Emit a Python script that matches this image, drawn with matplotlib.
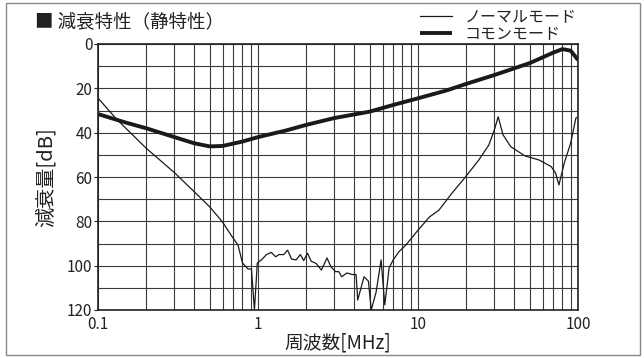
import matplotlib
matplotlib.use('Agg')
import matplotlib.pyplot as plt
from matplotlib.patches import Rectangle
from matplotlib.ticker import FixedLocator, NullFormatter

plt.rcParams['font.family'] = ['Noto Sans CJK JP', 'DejaVu Sans']

# common mode (thick)
common_f = [0.1, 0.15, 0.2, 0.3, 0.4, 0.5, 0.6, 0.8, 1, 1.5, 2, 3, 5, 7, 10,
            15, 20, 30, 50, 70, 80, 90, 100]
common_db = [31.6, 35.5, 38, 42, 44.8, 46.2, 46, 44, 42, 39, 36.5, 33.4, 30.5,
             27.5, 24.5, 21, 18, 14, 8.6, 3.9, 2.3, 3, 7.2]

# normal mode (thin)
normal_f = [0.1, 0.131, 0.2, 0.3, 0.4, 0.5, 0.6, 0.69, 0.75, 0.8, 0.866, 0.91,
            0.95, 0.99, 1.05, 1.13, 1.21, 1.29, 1.35, 1.45, 1.53, 1.62, 1.73,
            1.84, 1.93, 2.04, 2.15, 2.31, 2.49, 2.7, 2.85, 3.05, 3.2, 3.33, 3.6,
            3.9, 4.1, 4.2, 4.6, 4.9, 5.1, 5.47, 5.88, 6.2, 6.6, 7.0, 7.6, 8.4,
            10, 11.8, 13.5, 16.3, 19.9, 24, 27.7, 30, 31.7, 34, 38, 46.6, 57,
            68, 72.5, 76, 82, 90, 97, 100]
normal_db = [24.4, 34, 47, 58, 66.7, 73.5, 80.3, 87, 90.7, 98.8, 101.5, 101.5,
             120, 98.8, 97.4, 95, 94, 96, 95, 95, 93, 97, 97.4,
             95, 97.7, 94.4, 98, 99, 102, 96.5, 100.4, 102.7, 102.7, 105, 103.3,
             104, 104, 115.5, 105, 107, 120, 112, 97.4, 117.7, 101, 97.4, 93.7, 90.7,
             84, 78, 75, 67.3, 59.8, 52.3, 45.6, 38.8, 32.8, 41, 46.3, 50.5, 52.3,
             55.3, 58.3, 63.6, 53.8, 44.7, 33.4, 33]

y_ticks = [0, 20, 40, 60, 80, 100, 120]
x_ticks = [0.1, 1, 10, 100]
x_labels = ['0.1', '1', '10', '100']

fig = plt.figure(figsize=(6.44, 3.58), dpi=100)
ax = fig.add_axes([98 / 644, 1 - 310 / 358, 480 / 644, 266 / 358])

ax.plot(normal_f, normal_db, color='#1a1a1a', lw=0.9, label='ノーマルモード')
ax.plot(common_f, common_db, color='#1a1a1a', lw=2.8, label='コモンモード',
        solid_capstyle='butt')

ax.set_xscale('log')
ax.set_xlim(0.1, 100)
ax.set_ylim(120, 0)
ax.set_xticks(x_ticks)
ax.set_xticklabels(x_labels)
minors = [m * 10.0 ** e for e in (-1, 0, 1) for m in range(2, 10)]
ax.xaxis.set_minor_locator(FixedLocator(minors))
ax.xaxis.set_minor_formatter(NullFormatter())
ax.set_yticks(y_ticks)
ax.set_yticks(range(10, 120, 20), minor=True)
ax.grid(True, which='both', color='#3a3a3a', lw=0.8)
ax.tick_params(axis='both', which='both', labelsize=11, colors='#222222',
               length=3, width=0.8)
ax.tick_params(axis='x', which='both', length=0, pad=4)
ax.tick_params(axis='y', which='minor', length=0)
ax.tick_params(axis='y', pad=1)
for s in ax.spines.values():
    s.set_color('#222222')
    s.set_linewidth(1.2)

ax.set_xlabel('周波数[MHz]', fontsize=13.5, color='#222222')
ax.set_ylabel('減衰量[dB]', fontsize=14.5, color='#222222')
ax.xaxis.set_label_coords(0.5, (310 - 332) / 266)
ax.yaxis.set_label_coords((57 - 98) / 480, 0.5)

fig.text(35 / 644, 1 - 22 / 358, '■ 減衰特性（静特性）', fontsize=13.3,
         color='#222222', va='center', ha='left')

fig.legend(loc='upper left', bbox_to_anchor=(420 / 644, 1 - 9 / 358),
           frameon=False, fontsize=11.5, handlelength=2.0, handletextpad=0.8,
           labelspacing=0.0, borderpad=0, borderaxespad=0,
           labelcolor='#222222')

fig.patches.append(Rectangle((6 / 644, 3 / 358), 634 / 644, 352 / 358,
                             transform=fig.transFigure, fill=False,
                             edgecolor='#888888', lw=1.0))

fig.savefig('out.png', dpi=100)
